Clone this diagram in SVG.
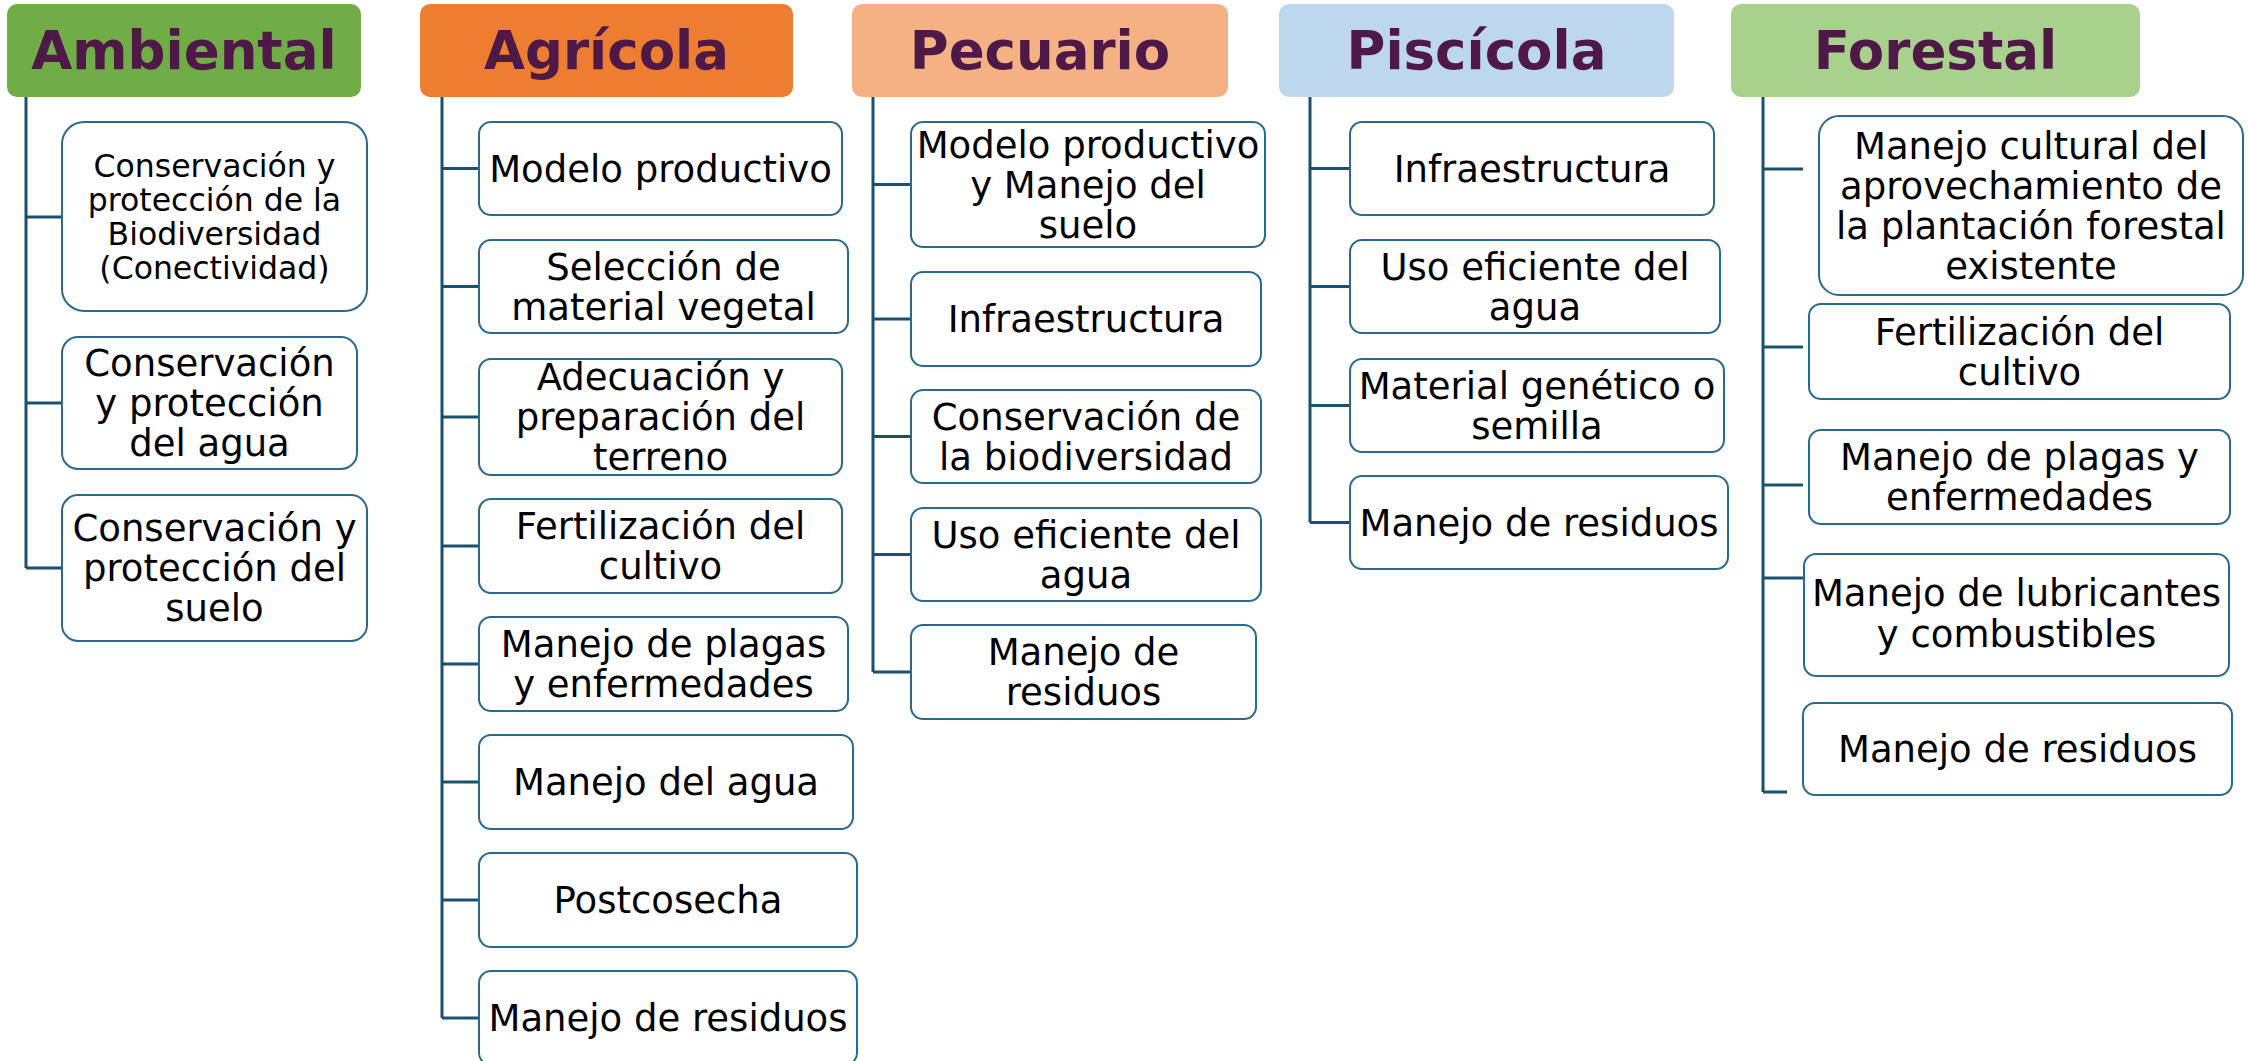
<svg xmlns="http://www.w3.org/2000/svg" width="2249" height="1061" viewBox="0 0 2249 1061">
<style>
.hdr text{font-family:"DejaVu Sans",Verdana,sans-serif;font-weight:bold;font-size:53px;fill:#4E1847;text-anchor:middle}
.box rect{fill:#fff;stroke:#2B6A8E;stroke-width:2}
.box text{font-family:"DejaVu Sans",Verdana,sans-serif;font-size:37px;fill:#000;text-anchor:middle}
.xs text{font-size:31.5px}
#connectors path{fill:none;stroke:#1A5070;stroke-width:3}
</style>
<rect width="2249" height="1061" fill="#fff"/>
<g id="connectors">
<path d="M26 97V568M26 217H62M26 403H62M26 568H62"/>
<path d="M442 97V1018M442 168.5H479M442 286.5H479M442 417H479M442 546H479M442 664H479M442 782H479M442 900H479M442 1018H479"/>
<path d="M873 97V672M873 184.5H911M873 319H911M873 436.5H911M873 554.5H911M873 672H911"/>
<path d="M1310 97V522.5M1310 168.5H1350M1310 286.5H1350M1310 405.5H1350M1310 522.5H1350"/>
<path d="M1763 97V792M1763 169H1803M1763 347H1803M1763 485H1803M1763 578H1804M1763 792H1787"/>
</g>
<g id="h-ambiental" class="hdr"><rect x="7" y="4" width="354" height="93" rx="10" fill="#70AD47"/><text x="184" y="69">Ambiental</text></g>
<g id="h-agricola" class="hdr"><rect x="420" y="4" width="373" height="93" rx="10" fill="#ED7D31"/><text x="606.5" y="69">Agrícola</text></g>
<g id="h-pecuario" class="hdr"><rect x="852" y="4" width="376" height="93" rx="10" fill="#F4B183"/><text x="1040" y="69">Pecuario</text></g>
<g id="h-piscicola" class="hdr"><rect x="1279" y="4" width="395" height="93" rx="10" fill="#BDD7EE"/><text x="1476.5" y="69">Piscícola</text></g>
<g id="h-forestal" class="hdr"><rect x="1731" y="4" width="409" height="93" rx="10" fill="#A9D18E"/><text x="1935.5" y="69">Forestal</text></g>

<g id="a1" class="box xs"><rect x="62" y="122" width="305" height="189" rx="22"/><text x="214.5" y="176.5">Conservación y</text><text x="214.5" y="210.5">protección de la</text><text x="214.5" y="244.5">Biodiversidad</text><text x="214.5" y="278.5">(Conectividad)</text></g>
<g id="a2" class="box"><rect x="62" y="337" width="295" height="132" rx="16"/><text x="209.5" y="376">Conservación</text><text x="209.5" y="416">y protección</text><text x="209.5" y="456">del agua</text></g>
<g id="a3" class="box"><rect x="62" y="495" width="305" height="146" rx="16"/><text x="214.5" y="541">Conservación y</text><text x="214.5" y="581">protección del</text><text x="214.5" y="621">suelo</text></g>

<g id="g1" class="box"><rect x="479" y="122" width="363" height="93" rx="12"/><text x="660.5" y="181.5">Modelo productivo</text></g>
<g id="g2" class="box"><rect x="479" y="240" width="369" height="93" rx="12"/><text x="663.5" y="279.5">Selección de</text><text x="663.5" y="319.5">material vegetal</text></g>
<g id="g3" class="box"><rect x="479" y="359" width="363" height="116" rx="12"/><text x="660.5" y="390">Adecuación y</text><text x="660.5" y="430">preparación del</text><text x="660.5" y="470">terreno</text></g>
<g id="g4" class="box"><rect x="479" y="499" width="363" height="94" rx="12"/><text x="660.5" y="539">Fertilización del</text><text x="660.5" y="579">cultivo</text></g>
<g id="g5" class="box"><rect x="479" y="617" width="369" height="94" rx="12"/><text x="663.5" y="657">Manejo de plagas</text><text x="663.5" y="697">y enfermedades</text></g>
<g id="g6" class="box"><rect x="479" y="735" width="374" height="94" rx="12"/><text x="666" y="795">Manejo del agua</text></g>
<g id="g7" class="box"><rect x="479" y="853" width="378" height="94" rx="12"/><text x="668" y="913">Postcosecha</text></g>
<g id="g8" class="box"><rect x="479" y="971" width="378" height="94" rx="12"/><text x="668" y="1031">Manejo de residuos</text></g>

<g id="p1" class="box"><rect x="911" y="122" width="354" height="125" rx="12"/><text x="1088" y="157.5">Modelo productivo</text><text x="1088" y="197.5">y Manejo del</text><text x="1088" y="237.5">suelo</text></g>
<g id="p2" class="box"><rect x="911" y="272" width="350" height="94" rx="12"/><text x="1086" y="332">Infraestructura</text></g>
<g id="p3" class="box"><rect x="911" y="390" width="350" height="93" rx="12"/><text x="1086" y="429.5">Conservación de</text><text x="1086" y="469.5">la biodiversidad</text></g>
<g id="p4" class="box"><rect x="911" y="508" width="350" height="93" rx="12"/><text x="1086" y="547.5">Uso eficiente del</text><text x="1086" y="587.5">agua</text></g>
<g id="p5" class="box"><rect x="911" y="625" width="345" height="94" rx="12"/><text x="1083.5" y="665">Manejo de</text><text x="1083.5" y="705">residuos</text></g>

<g id="f1" class="box"><rect x="1350" y="122" width="364" height="93" rx="12"/><text x="1532" y="181.5">Infraestructura</text></g>
<g id="f2" class="box"><rect x="1350" y="240" width="370" height="93" rx="12"/><text x="1535" y="279.5">Uso eficiente del</text><text x="1535" y="319.5">agua</text></g>
<g id="f3" class="box"><rect x="1350" y="359" width="374" height="93" rx="12"/><text x="1537" y="398.5">Material genético o</text><text x="1537" y="438.5">semilla</text></g>
<g id="f4" class="box"><rect x="1350" y="476" width="378" height="93" rx="12"/><text x="1539" y="535.5">Manejo de residuos</text></g>

<g id="r1" class="box"><rect x="1819" y="116" width="424" height="179" rx="20"/><text x="2031" y="158.5">Manejo cultural del</text><text x="2031" y="198.5">aprovechamiento de</text><text x="2031" y="238.5">la plantación forestal</text><text x="2031" y="278.5">existente</text></g>
<g id="r2" class="box"><rect x="1809" y="304" width="421" height="95" rx="12"/><text x="2019.5" y="344.5">Fertilización del</text><text x="2019.5" y="384.5">cultivo</text></g>
<g id="r3" class="box"><rect x="1809" y="430" width="421" height="94" rx="12"/><text x="2019.5" y="470">Manejo de plagas y</text><text x="2019.5" y="510">enfermedades</text></g>
<g id="r4" class="box"><rect x="1804" y="554" width="425" height="122" rx="12"/><text x="2016.5" y="606">Manejo de lubricantes</text><text x="2016.5" y="647">y combustibles</text></g>
<g id="r5" class="box"><rect x="1803" y="703" width="429" height="92" rx="12"/><text x="2017.5" y="762">Manejo de residuos</text></g>
</svg>
